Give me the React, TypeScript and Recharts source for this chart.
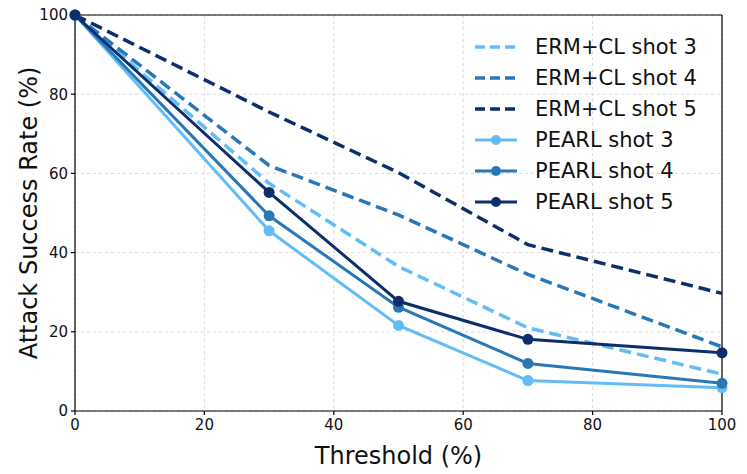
import React from "react";
import {
  LineChart,
  Line,
  XAxis,
  YAxis,
  CartesianGrid,
  Legend,
  ReferenceLine,
} from "recharts";

const thresholds = [0, 30, 50, 70, 100];
const ermShot3 = [100, 57.5, 36.5, 21.0, 9.3];
const ermShot4 = [100, 62.0, 49.5, 34.5, 16.2];
const ermShot5 = [100, 75.5, 60.2, 42.0, 29.7];
const pearlShot3 = [100, 45.5, 21.6, 7.7, 5.9];
const pearlShot4 = [100, 49.3, 26.2, 12.0, 7.0];
const pearlShot5 = [100, 55.2, 27.7, 18.1, 14.7];

const xTicks = [0, 20, 40, 60, 80, 100];
const yTicks = [0, 20, 40, 60, 80, 100];

const LIGHT = "#62bcf7";
const MID = "#2878b8";
const DARK = "#0c2e6a";
const FONT = "'DejaVu Sans', sans-serif";

const data = thresholds.map((t, i) => ({
  t,
  erm3: ermShot3[i],
  erm4: ermShot4[i],
  erm5: ermShot5[i],
  pearl3: pearlShot3[i],
  pearl4: pearlShot4[i],
  pearl5: pearlShot5[i],
}));

const legendItems = [
  { label: "ERM+CL shot 3", color: LIGHT, dashed: true },
  { label: "ERM+CL shot 4", color: MID, dashed: true },
  { label: "ERM+CL shot 5", color: DARK, dashed: true },
  { label: "PEARL shot 3", color: LIGHT, dashed: false },
  { label: "PEARL shot 4", color: MID, dashed: false },
  { label: "PEARL shot 5", color: DARK, dashed: false },
];

function LegendBox() {
  return (
    <div style={{ fontFamily: FONT, fontSize: 21, color: "#111" }}>
      {legendItems.map((it) => (
        <div
          key={it.label}
          style={{ display: "flex", alignItems: "center", height: 31 }}
        >
          <svg width={44} height={14} style={{ marginRight: 17 }}>
            <line
              x1={1}
              y1={7}
              x2={43}
              y2={7}
              stroke={it.color}
              strokeWidth={it.dashed ? 3.5 : 3}
              strokeDasharray={it.dashed ? "10 5" : undefined}
            />
            {!it.dashed && <circle cx={22} cy={7} r={5} fill={it.color} />}
          </svg>
          <span>{it.label}</span>
        </div>
      ))}
    </div>
  );
}

const tickStyle = { fontFamily: FONT, fontSize: 15, fill: "#111" };

export default function App() {
  return (
    <div style={{ position: "fixed", left: 0, top: 0, width: 747, height: 474, background: "#fff" }}>
      <LineChart
        width={747}
        height={474}
        data={data}
        margin={{ top: 15, right: 25, bottom: 0, left: 0 }}
      >
        <CartesianGrid stroke="#cfcfcf" strokeDasharray="3 3" strokeWidth={0.8} />
        <XAxis
          dataKey="t"
          type="number"
          domain={[0, 100]}
          ticks={xTicks}
          height={63}
          tick={tickStyle}
          tickSize={4}
          tickMargin={4}
          stroke="#000"
          strokeWidth={1.2}
          label={{
            value: "Threshold (%)",
            position: "insideBottom",
            offset: 10,
            style: { fontFamily: FONT, fontSize: 24, fill: "#111" },
          }}
        />
        <YAxis
          type="number"
          domain={[0, 100]}
          ticks={yTicks}
          width={75}
          tick={tickStyle}
          tickSize={4}
          tickMargin={3}
          stroke="#000"
          strokeWidth={1.2}
          label={{
            value: "Attack Success Rate (%)",
            angle: -90,
            position: "insideLeft",
            offset: 28,
            style: { fontFamily: FONT, fontSize: 24, fill: "#111", textAnchor: "middle" },
          }}
        />
        <ReferenceLine y={100} stroke="#000" strokeWidth={1.2} />
        <ReferenceLine x={100} stroke="#000" strokeWidth={1.2} />
        <Line dataKey="erm3" stroke={LIGHT} strokeWidth={3.5} strokeDasharray="12 6" dot={false} isAnimationActive={false} />
        <Line dataKey="erm4" stroke={MID} strokeWidth={3.5} strokeDasharray="12 6" dot={false} isAnimationActive={false} />
        <Line dataKey="erm5" stroke={DARK} strokeWidth={3.5} strokeDasharray="12 6" dot={false} isAnimationActive={false} />
        <Line dataKey="pearl3" stroke={LIGHT} strokeWidth={3} dot={{ r: 5.5, fill: LIGHT, stroke: LIGHT, strokeWidth: 0 }} isAnimationActive={false} />
        <Line dataKey="pearl4" stroke={MID} strokeWidth={3} dot={{ r: 5.5, fill: MID, stroke: MID, strokeWidth: 0 }} isAnimationActive={false} />
        <Line dataKey="pearl5" stroke={DARK} strokeWidth={3} dot={{ r: 5.5, fill: DARK, stroke: DARK, strokeWidth: 0 }} isAnimationActive={false} />
        <Legend
          layout="vertical"
          align="center"
          verticalAlign="middle"
          content={<LegendBox />}
          wrapperStyle={{ position: "absolute", left: 474, top: 31, width: 270 }}
        />
      </LineChart>
    </div>
  );
}
